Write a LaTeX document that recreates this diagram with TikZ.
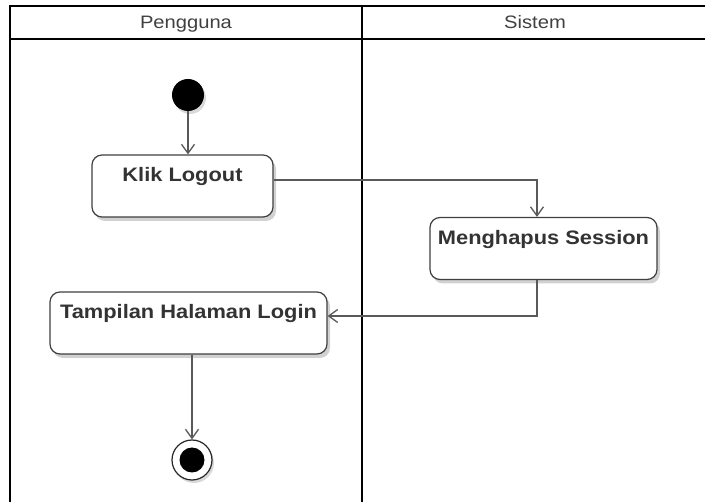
\documentclass[tikz,border=0pt]{standalone}
\usepackage{fontspec}
\setmainfont{Liberation Sans}[FakeStretch=1.12]
\usetikzlibrary{arrows.meta,shadows,calc}

\begin{document}
\begin{tikzpicture}[x=1pt,y=-1pt,
  frame/.style={draw=black, line width=2.4pt},
  lanehead/.style={anchor=base, text=black!75, font=\fontsize{18}{20}\selectfont},
  act/.style={draw=black!75, line width=1.2pt, rounded corners=10pt, fill=white,
    font=\bfseries\fontsize{19.5}{21}\selectfont, text=black!80,
    inner xsep=0pt, inner ysep=0pt, text height=27pt, text depth=35pt,
    drop shadow={shadow xshift=3pt, shadow yshift=-4pt, fill=black, opacity=0.18}},
  flow/.style={draw=black!65, line width=1.3pt, -{Straight Barb[length=9pt,width=13pt,line width=1.3pt]}},
  startnode/.style={circle, fill=black, minimum size=32pt, inner sep=0pt,
    drop shadow={shadow xshift=2pt, shadow yshift=-3pt, fill=black, opacity=0.15}},
  endnode/.style={circle, draw=black!85, fill=white, line width=1.2pt, minimum size=40pt, inner sep=0pt,
    drop shadow={shadow xshift=2pt, shadow yshift=-3pt, fill=black, opacity=0.15}},
  enddot/.style={circle, fill=black, minimum size=25pt, inner sep=0pt}]

  \useasboundingbox[fill=white] (0,0) rectangle (705,502);

  % swimlane frame
  \draw[frame] (705,6) -- (10,6) -- (10,502);
  \draw[frame] (10,39) -- (705,39);
  \draw[frame] (362,6) -- (362,502);

  % lane titles
  \node[lanehead] (lane1) at (186,29) {Pengguna};
  \node[lanehead] (lane2) at (535,29) {Sistem};

  % activities
  \node[startnode] (start) at (188,95) {};
  \node[act, minimum width=181pt] (klik) at (182.5,186) {Klik Logout};
  \node[act, minimum width=227pt] (hapus) at (543.5,248.5) {Menghapus Session};
  \node[act, minimum width=277pt] (tampil) at (188.5,323) {Tampilan Halaman Login};
  \node[endnode] (end) at (192,460) {};
  \node[enddot] (enddot) at (end) {};

  % control flow
  \draw[flow] (start) -- (start |- klik.north);
  \draw[flow] ([yshift=6pt]klik.east) -| ([xshift=-6.5pt]hapus.north);
  \draw[flow] ([xshift=-6.5pt]hapus.south) |- ([yshift=7pt]tampil.east);
  \draw[flow] (tampil.south -| end) -- (end);
\end{tikzpicture}
\end{document}
